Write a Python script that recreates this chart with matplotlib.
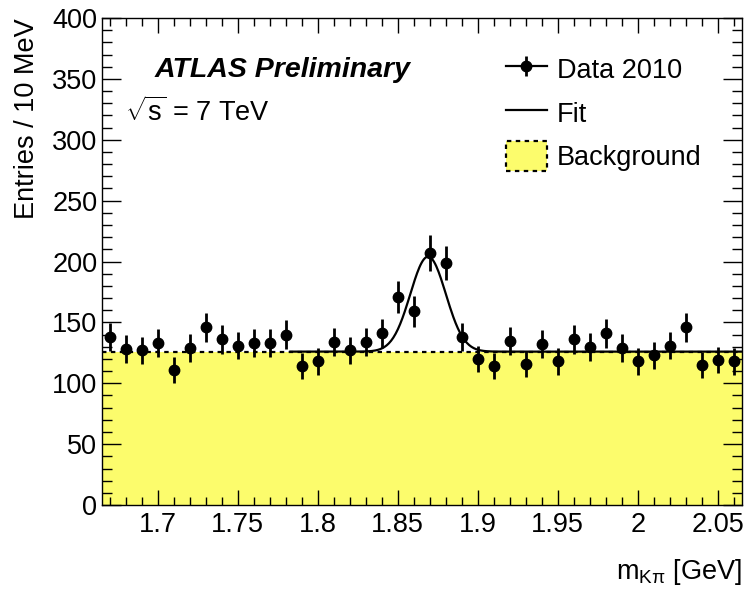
import numpy as np
import matplotlib
matplotlib.use("Agg")
import matplotlib.pyplot as plt
from matplotlib.patches import Patch
from matplotlib.lines import Line2D

plt.rcParams["font.family"] = ["Liberation Sans", "DejaVu Sans"]
plt.rcParams["mathtext.fontset"] = "custom"
plt.rcParams["mathtext.rm"] = "Liberation Sans"
plt.rcParams["mathtext.it"] = "Liberation Sans:italic"
plt.rcParams["mathtext.sf"] = "Liberation Sans"

# ----------------------
# Data (10 MeV bins)
# ----------------------
mass = [1.67, 1.68, 1.69, 1.70, 1.71, 1.72, 1.73, 1.74, 1.75, 1.76,
        1.77, 1.78, 1.79, 1.80, 1.81, 1.82, 1.83, 1.84, 1.85, 1.86,
        1.87, 1.88, 1.89, 1.90, 1.91, 1.92, 1.93, 1.94, 1.95, 1.96,
        1.97, 1.98, 1.99, 2.00, 2.01, 2.02, 2.03, 2.04, 2.05, 2.06]
entries = [138, 128, 127, 133, 111, 129, 146, 136, 131, 133,
           133, 140, 114, 118, 134, 127, 134, 141, 171, 159,
           207, 199, 138, 120, 114, 135, 116, 132, 118, 136,
           130, 141, 129, 118, 123, 131, 146, 115, 119, 118]

# fit: flat background + gaussian peak
bg_level = 126.0
peak_amp = 78.0
peak_mean = 1.869
peak_sigma = 0.0111
fit_start = 1.783

x_lo, x_hi = 1.665, 2.065

mass = np.array(mass)
entries = np.array(entries)
errors = np.sqrt(entries)

fs = 19.5

fig = plt.figure(figsize=(7.47, 5.90), dpi=100)
ax = fig.add_axes([0.136, 0.144, 0.857, 0.8255])

# background band
yellow = "#fcfc6c"
ax.fill_between([x_lo, x_hi], 0, bg_level, color=yellow, lw=0, zorder=1)
ax.plot([x_lo, x_hi], [bg_level, bg_level], color="black", ls=(0, (2, 2)), lw=1.6, zorder=2)

# fit curve
xf = np.linspace(fit_start, x_hi, 400)
yf = bg_level + peak_amp * np.exp(-0.5 * ((xf - peak_mean) / peak_sigma) ** 2)
ax.plot(xf, yf, color="black", lw=1.6, zorder=3)

# data
ax.errorbar(mass, entries, yerr=errors, fmt="o", color="black", ms=7.5,
            elinewidth=2, capsize=0, zorder=4)

ax.set_xlim(x_lo, x_hi)
ax.set_ylim(0, 400)
ax.set_xticks([1.7, 1.75, 1.8, 1.85, 1.9, 1.95, 2.0, 2.05])
ax.set_xticklabels(["1.7", "1.75", "1.8", "1.85", "1.9", "1.95", "2", "2.05"])
ax.set_xticks(np.arange(1.67, 2.065, 0.01), minor=True)
ax.set_yticks(np.arange(0, 401, 50))
ax.set_yticks(np.arange(0, 401, 10), minor=True)

ax.tick_params(which="both", direction="in", top=True, right=True,
               labelsize=fs, width=1.0, colors="black")
ax.tick_params(axis="x", which="major", length=11, pad=5)
ax.tick_params(axis="x", which="minor", length=5.5)
ax.tick_params(axis="y", which="major", length=14, pad=3)
ax.tick_params(axis="y", which="minor", length=7)
for sp in ax.spines.values():
    sp.set_linewidth(1.0)

ax.set_ylabel("Entries / 10 MeV", fontsize=fs, loc="top", labelpad=9)
ax.set_xlabel(r"m$_{\mathregular{K\pi}}$ [GeV]", fontsize=fs, loc="right", labelpad=14)

ax.text(0.083, 0.893, "ATLAS Preliminary", transform=ax.transAxes,
        fontsize=20.5, fontweight="bold", fontstyle="italic", va="center")
ax.text(0.036, 0.806, r"$\sqrt{\mathregular{s}}$ = 7 TeV", transform=ax.transAxes,
        fontsize=fs, va="center")

# legend handles (ROOT style: marker on a line with a vertical error bar)
h_data = (Line2D([], [], color="black", lw=1.6, marker="o", ms=7.5),
          Line2D([], [], color="black", lw=0, marker="|", ms=14, mew=2))
h_fit = Line2D([], [], color="black", lw=1.6)
h_bg = Patch(facecolor=yellow, edgecolor="black", linestyle=(0, (2, 2)), linewidth=1.6)
ax.legend([h_data, h_fit, h_bg], ["Data 2010", "Fit", "Background"],
          loc="upper left", bbox_to_anchor=(0.632, 0.925), frameon=False,
          fontsize=fs, handlelength=1.5, handleheight=1.3, labelspacing=0.5,
          handletextpad=0.37, borderpad=0, borderaxespad=0)

plt.savefig("out.png", dpi=100)
